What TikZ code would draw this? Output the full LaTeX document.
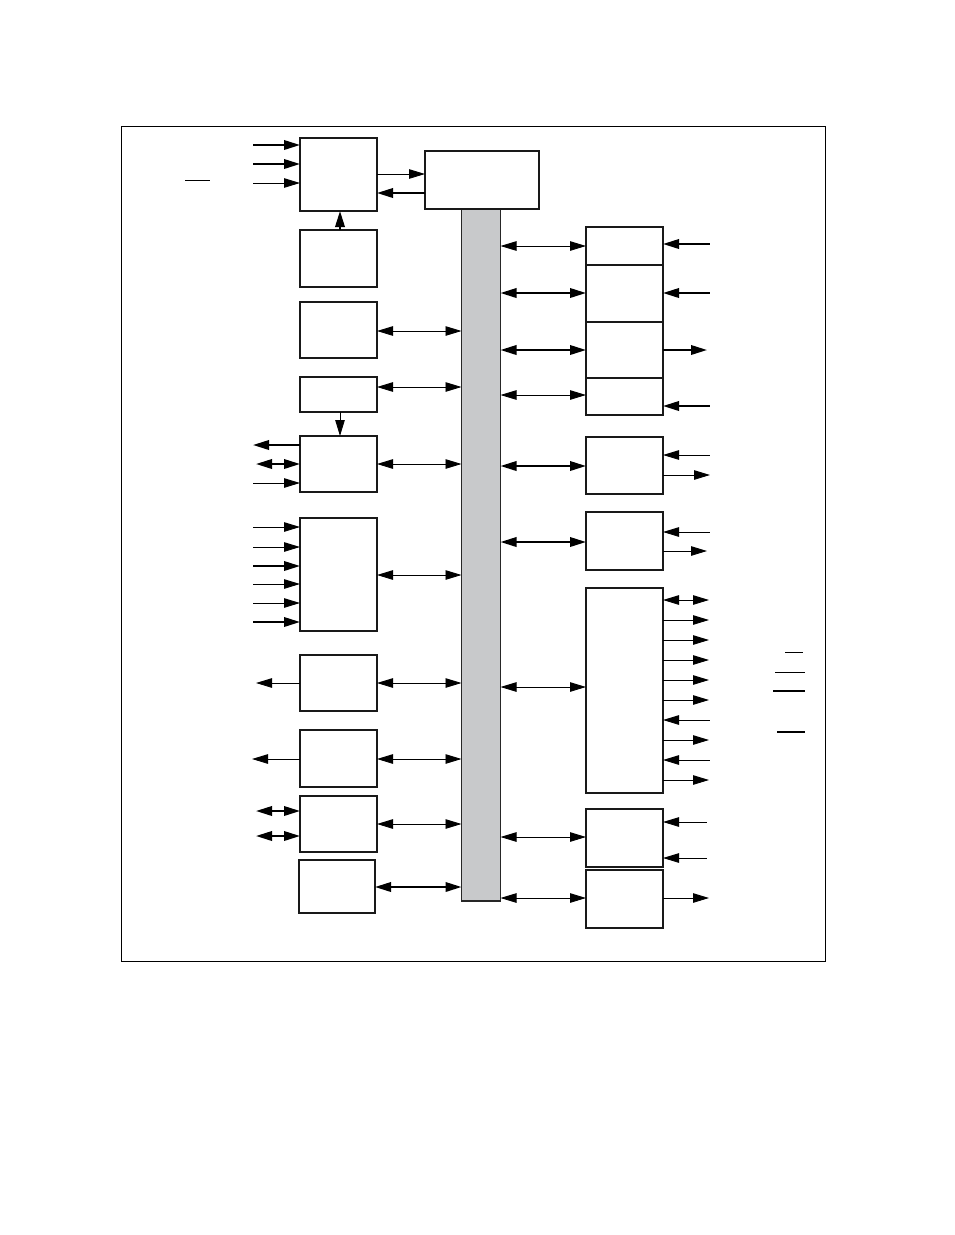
\documentclass[tikz,border=0pt]{standalone}
\usetikzlibrary{arrows.meta}
\definecolor{busgray}{HTML}{C8C9CB}
\newcommand\mkbox[5]{% name, x1, y1, x2, y2
  \pgfmathsetmacro\bw{#4-#2}\pgfmathsetmacro\bh{#5-#3}%
  \node[blk, anchor=north west, minimum width=\bw pt, minimum height=\bh pt] (#1) at (#2,#3) {};}
% pin on the west side: node, y, free x, style
\newcommand\pinW[4]{\coordinate (#1p#2) at (#3,#2); \draw[#4] (#1p#2) -- (#1p#2 -| #1.west);}
% pin on the east side: node, y, free x, style
\newcommand\pinE[4]{\coordinate (#1p#2) at (#3,#2); \draw[#4] (#1p#2 -| #1.east) -- (#1p#2);}
% connection to the bus: node, y, style
\newcommand\busL[3]{\coordinate (#1b#2) at (0,#2); \draw[#3] (#1b#2 -| #1.east) -- (#1b#2 -| bus.west);}
\newcommand\busR[3]{\coordinate (#1b#2) at (0,#2); \draw[#3] (#1b#2 -| bus.east) -- (#1b#2 -| #1.west);}
\begin{document}
\begin{tikzpicture}[x=1pt,y=-1pt,
  >={Triangle[length=16pt,width=9.5pt]},
  blk/.style={draw=black!90, line width=1.2pt, fill=white, inner sep=0pt, outer sep=0pt},
  thn/.style={line width=0.9pt},
  thk/.style={line width=2pt},
  arin/.style={thn,->}, arinT/.style={thk,->},
  arout/.style={thn,<-}, aroutT/.style={thk,<-},
  bi/.style={thn,<->}, biT/.style={thk,<->},
  ob/.style={line width=0.9pt}, obT/.style={line width=1.6pt}]
\useasboundingbox (0,0) rectangle (954,1235);
\fill[white] (0,0) rectangle (954,1235);
\draw[line width=1pt] (121,126) rectangle (825,961);
% bus
\node[draw=black!85, line width=1.2pt, fill=busgray, anchor=north west, minimum width=39pt, minimum height=692pt, inner sep=0pt, outer sep=0pt] (bus) at (461.5,209) {};
% left column
\mkbox{A}{300}{138}{377}{211}
\mkbox{B}{425}{151}{539}{209}
\mkbox{C}{300}{230}{377}{287}
\mkbox{D}{300}{302}{377}{358}
\mkbox{E}{300}{377}{377}{412}
\mkbox{F}{300}{436}{377}{492}
\mkbox{G}{300}{518}{377}{631}
\mkbox{H}{300}{655}{377}{711}
\mkbox{I}{300}{730}{377}{787}
\mkbox{J}{300}{796}{377}{852}
\mkbox{K}{299}{860}{375}{913}
% right column
\mkbox{Ra}{586}{227}{663}{265}
\mkbox{Rb}{586}{265}{663}{322}
\mkbox{Rc}{586}{322}{663}{378}
\mkbox{Rd}{586}{378}{663}{415}
\mkbox{Re}{586}{437}{663}{494}
\mkbox{Rf}{586}{512}{663}{570}
\mkbox{Rg}{586}{588}{663}{793}
\mkbox{Rh}{586}{809}{663}{867}
\mkbox{Ri}{586}{870}{663}{928}
% A inputs
\pinW{A}{145}{253}{arinT}
\pinW{A}{164}{253}{arinT}
\pinW{A}{183}{253}{arin}
\draw[ob] (185,180) -- (210,180);
% A <-> B
\coordinate (ab1) at (0,174); \coordinate (ab2) at (0,193);
\draw[arin] (ab1 -| A.east) -- (ab1 -| B.west);
\draw[arinT] (ab2 -| B.west) -- (ab2 -| A.east);
% vertical links
\coordinate (vx) at (340,0);
\draw[arinT] (vx |- C.north) -- (vx |- A.south);
\draw[arin] (vx |- E.south) -- (vx |- F.north);
% left bus links
\busL{D}{331}{bi}
\busL{E}{387}{bi}
\busL{F}{464}{bi}
\busL{G}{575}{bi}
\busL{H}{683}{bi}
\busL{I}{759}{bi}
\busL{J}{824}{bi}
\busL{K}{887}{biT}
% F pins
\pinW{F}{445}{253}{aroutT}
\pinW{F}{464}{256}{biT}
\pinW{F}{483}{253}{arin}
% G pins
\pinW{G}{527}{253}{arin}
\pinW{G}{547}{253}{arin}
\pinW{G}{566}{253}{arinT}
\pinW{G}{584}{253}{arin}
\pinW{G}{603}{253}{arin}
\pinW{G}{622}{253}{arinT}
% H, I, J pins
\pinW{H}{683}{256}{arout}
\pinW{I}{759}{252}{arout}
\pinW{J}{811}{256}{biT}
\pinW{J}{836}{256}{biT}
% right bus links
\busR{Ra}{246}{bi}
\busR{Rb}{293}{biT}
\busR{Rc}{350}{biT}
\busR{Rd}{395}{bi}
\busR{Re}{466}{biT}
\busR{Rf}{542}{biT}
\busR{Rg}{687}{bi}
\busR{Rh}{837}{bi}
\busR{Ri}{898}{bi}
% right pins
\pinE{Ra}{244}{710}{aroutT}
\pinE{Rb}{293}{710}{aroutT}
\pinE{Rc}{350}{707}{arinT}
\pinE{Rd}{406}{710}{aroutT}
\pinE{Re}{455}{710}{arout}
\pinE{Re}{475}{710}{arin}
\pinE{Rf}{532}{710}{arout}
\pinE{Rf}{551}{707}{arin}
\pinE{Rg}{600}{709}{bi}
\pinE{Rg}{620}{709}{arin}
\pinE{Rg}{640}{709}{arin}
\pinE{Rg}{660}{709}{arin}
\pinE{Rg}{680}{709}{arin}
\pinE{Rg}{700}{709}{arin}
\pinE{Rg}{720}{710}{arout}
\pinE{Rg}{740}{709}{arin}
\pinE{Rg}{760}{710}{arout}
\pinE{Rg}{780}{709}{arin}
\pinE{Rh}{822}{707}{arout}
\pinE{Rh}{858}{707}{arout}
\pinE{Ri}{898}{709}{arin}
% overbars
\draw[ob] (785,652) -- (803,652);
\draw[ob] (775,672) -- (805,672);
\draw[obT] (773,691) -- (805,691);
\draw[obT] (777,732) -- (805,732);
\end{tikzpicture}
\end{document}
